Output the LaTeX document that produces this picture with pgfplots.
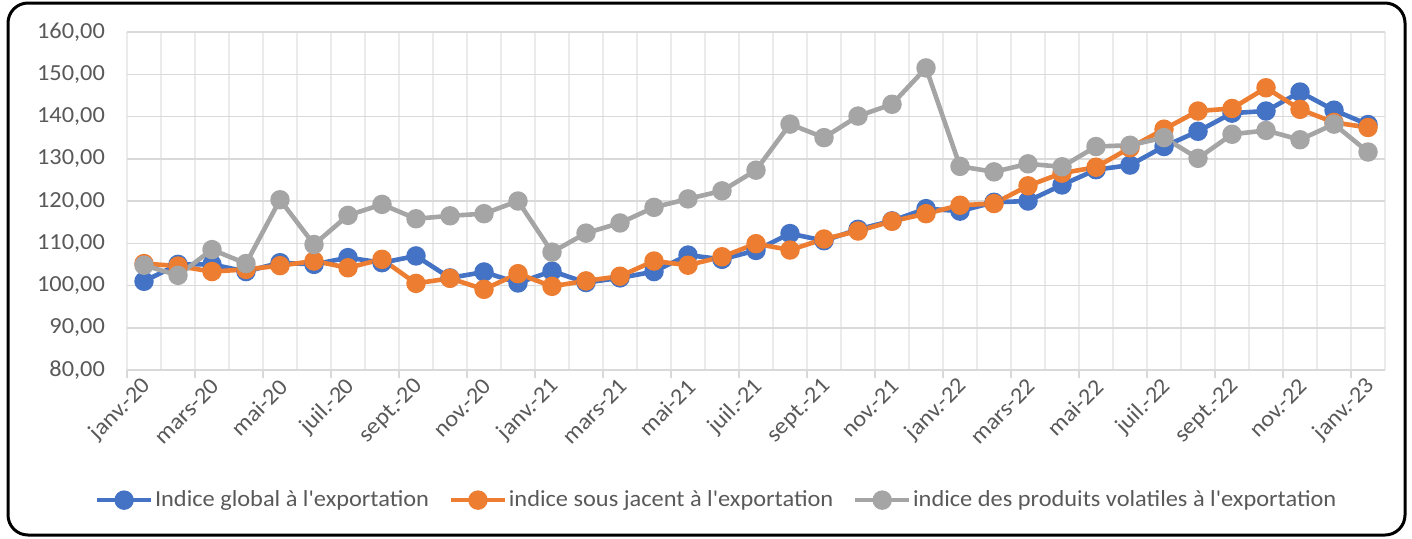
\documentclass[border=0pt]{standalone}
\usepackage{pgfplots}
\pgfplotsset{compat=1.18}
\usepackage{pgfplotstable}
\usepackage{fontspec}
\setmainfont{Carlito}[Ligatures=TeXOff, FakeStretch=1.06]
\definecolor{cblue}{HTML}{4472C4}
\definecolor{corange}{HTML}{ED7D31}
\definecolor{cgrey}{HTML}{A5A5A5}
\definecolor{ctext}{HTML}{595959}
\definecolor{cgridh}{HTML}{D9D9D9}
\definecolor{cgridv}{HTML}{EBEBEB}
\pgfplotstableread{
i blue orange grey
0 101.0 105.2 104.8
1 105.0 104.6 102.4
2 105.0 103.3 108.5
3 103.3 103.8 105.2
4 105.4 104.7 120.3
5 105.0 105.8 109.7
6 106.6 104.2 116.6
7 105.4 106.2 119.2
8 107.0 100.5 115.8
9 101.8 101.7 116.5
10 103.2 99.1 117.0
11 100.6 102.8 120.0
12 103.4 99.8 107.9
13 100.7 101.1 112.4
14 101.8 102.2 114.8
15 103.3 105.8 118.5
16 107.2 104.8 120.5
17 106.2 106.8 122.4
18 108.3 109.9 127.3
19 112.3 108.4 138.2
20 110.6 111.0 135.0
21 113.3 112.9 140.1
22 115.3 115.2 142.9
23 118.2 117.0 151.5
24 117.6 119.0 128.2
25 119.7 119.4 126.9
26 120.0 123.6 128.8
27 123.8 126.6 128.1
28 127.4 128.0 132.9
29 128.5 132.6 133.2
30 132.9 137.0 135.0
31 136.5 141.3 130.1
32 140.8 141.9 135.8
33 141.3 146.8 136.7
34 145.8 141.7 134.5
35 141.5 138.6 138.2
36 138.1 137.4 131.6
}\datatable
\begin{document}
\begin{tikzpicture}
\useasboundingbox (0pt,0pt) rectangle (706pt,269pt);
\draw[line width=1.5pt, rounded corners=10pt] (4pt,1.5pt) rectangle (702.5pt,267.5pt);
\begin{axis}[
  at={(63.5pt,84pt)}, anchor=south west,
  width=629pt, height=169pt, scale only axis,
  xmin=-0.5, xmax=36.5, ymin=80, ymax=160,
  axis line style={draw=none},
  xtick={-0.5,1.5,...,35.5},
  minor xtick={0.5,2.5,...,36.5},
  xticklabels={janv.-20,mars-20,mai-20,juil.-20,sept.-20,nov.-20,janv.-21,mars-21,mai-21,juil.-21,sept.-21,nov.-21,janv.-22,mars-22,mai-22,juil.-22,sept.-22,nov.-22,janv.-23},
  ytick={80,90,...,160},
  xtick pos=bottom, ytick pos=left,
  tick align=outside,
  major tick length=4pt, minor tick length=0pt,
  xtick style={draw=cgridh, line width=0.75pt},
  ytick style={draw=none},
  xmajorgrids, xminorgrids, ymajorgrids,
  x grid style={draw=cgridv, line width=0.75pt},
  y grid style={draw=cgridh, line width=0.75pt},
  tick label style={font=\fontsize{11.5}{13}\selectfont, text=ctext},
  xticklabel style={rotate=45, anchor=east, xshift=9pt, yshift=-9pt},
  yticklabel style={xshift=-3.5pt},
  /pgf/number format/.cd, fixed, fixed zerofill, precision=2, use comma, assume math mode=true,
  /pgfplots/.cd,
  every axis plot/.append style={line width=2.3pt, mark=*, mark size=3.7pt, mark options={solid}},
  legend columns=3,
  legend style={at={(0.4685,-0.385)}, anchor=center, draw=none, fill=none,
    font=\fontsize{11.5}{13}\selectfont, text=ctext,
    nodes={inner xsep=0.8pt, inner ysep=1pt},
    /tikz/every even column/.append style={column sep=9pt},
    inner sep=0pt, row sep=0pt},
  legend cell align=left,
  legend image code/.code={\draw[mark repeat=2,mark phase=2] plot coordinates {(0pt,0pt) (13.5pt,0pt) (27pt,0pt)};},
]
\addplot[color=cblue] table[x=i,y=blue] {\datatable};
\addplot[color=corange] table[x=i,y=orange] {\datatable};
\addplot[color=cgrey] table[x=i,y=grey] {\datatable};
\legend{Indice global à l'exportation, indice sous jacent à l'exportation, indice des produits volatiles à l'exportation}
\end{axis}
\end{tikzpicture}
\end{document}
